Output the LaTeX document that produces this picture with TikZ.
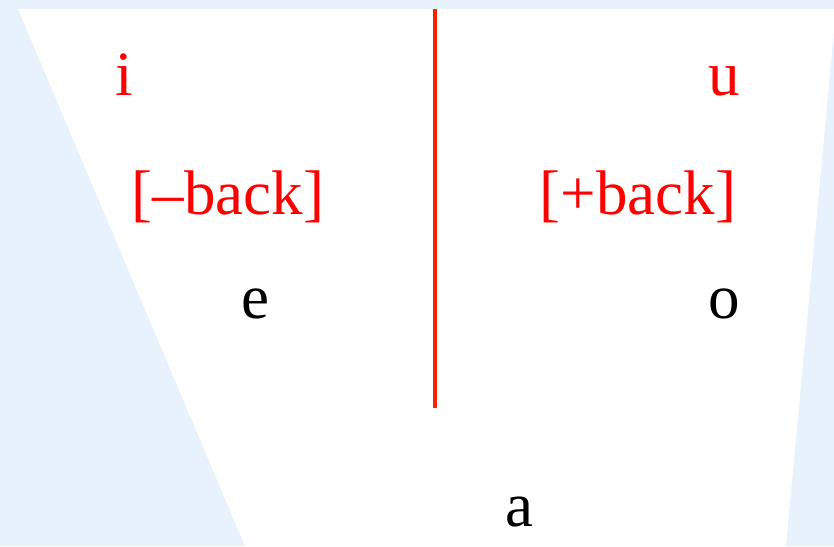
\documentclass[tikz,border=0pt]{standalone}
\usepackage{fontspec}
\setmainfont{Liberation Serif}
\definecolor{bgblue}{HTML}{E8F2FC}
\definecolor{vred}{HTML}{FF2200}
\begin{document}
\begin{tikzpicture}[x=1pt,y=-1pt,
  lbl/.style={inner sep=0pt,anchor=base,font=\fontsize{63}{70}\selectfont},
  redlbl/.style={lbl,text=red}]
\useasboundingbox (0,0) rectangle (834,546);
\fill[bgblue] (0,0) rectangle (834,546);
\clip (0,0) rectangle (834,546);
\fill[white] (18,9) -- (836,9) -- (786,546) -- (245,546) -- cycle;
\coordinate (ltop) at (434.5,9);
\coordinate (lbot) at (434.5,408);
\draw[vred,line width=4pt] (ltop) -- (lbot);
\node[redlbl] (i) at (124,95) {i};
\node[redlbl] (u) at (724,95) {u};
\node[redlbl] (mb) at (228,214) {[–back]};
\node[redlbl] (pb) at (638,214) {[+back]};
\node[lbl] (e) at (255,318) {e};
\node[lbl] (o) at (724,318) {o};
\node[lbl] (a) at (519,526) {a};
\end{tikzpicture}
\end{document}
